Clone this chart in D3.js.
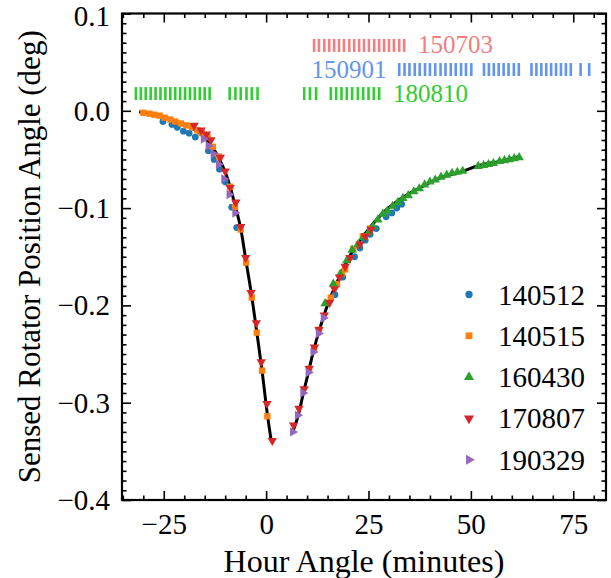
<!DOCTYPE html>
<html>
<head>
<meta charset="utf-8">
<script src="https://cdn.jsdelivr.net/npm/d3@7"></script>
<style>
  body { margin: 0; background: #fff; }
</style>
</head>
<body>
<svg id="chart"></svg>
<script>
// Data: [hour angle (min), sensed rotator PA (deg)]
const s140512 = [
  [-25.2, -0.011], [-23.0, -0.014], [-21.7, -0.017], [-20.2, -0.021], [-18.8, -0.023],
  [-17.3, -0.027], [-14.1, -0.041], [-12.7, -0.050], [-11.4, -0.060], [-10.0, -0.073],
  [-8.4, -0.099], [-7.2, -0.120],
  [16.8, -0.189], [18.7, -0.171], [21.6, -0.150], [22.9, -0.141], [24.2, -0.133],
  [25.4, -0.127], [26.9, -0.121], [29.3, -0.109], [30.7, -0.105], [31.9, -0.100], [33.1, -0.096]
];
const s140515 = [
  [-30.0, -0.002], [-28.5, -0.003], [-27.3, -0.004], [-26.0, -0.005], [-24.8, -0.007],
  [-23.4, -0.009], [-22.2, -0.011], [-20.8, -0.013], [-19.5, -0.015], [-18.1, -0.017],
  [-16.8, -0.020], [-15.7, -0.023], [-14.3, -0.027], [-13.0, -0.037], [-11.5, -0.047],
  [-8.8, -0.078], [-7.6, -0.099], [-6.2, -0.122], [-4.9, -0.156], [-3.5, -0.192],
  [-2.3, -0.228], [-1.0, -0.267], [0.3, -0.314],
  [10.5, -0.265], [11.7, -0.244], [12.9, -0.225], [15.8, -0.192], [17.3, -0.178],
  [18.5, -0.167], [19.3, -0.163], [21.3, -0.142], [23.6, -0.129], [25.4, -0.121]
];
const s160430 = [
  [14.4, -0.198], [16.4, -0.178], [18.1, -0.168], [19.7, -0.154], [21.0, -0.143],
  [22.5, -0.137], [23.7, -0.130], [25.0, -0.125], [26.1, -0.119], [27.3, -0.112],
  [28.5, -0.106], [29.6, -0.103], [30.9, -0.098], [32.2, -0.094], [33.4, -0.090],
  [34.7, -0.087], [36.1, -0.083], [37.4, -0.080], [38.7, -0.076], [40.0, -0.073],
  [41.3, -0.071], [42.7, -0.068], [44.1, -0.066], [45.4, -0.064], [46.7, -0.063],
  [48.0, -0.062], [51.8, -0.057], [53.1, -0.056], [54.3, -0.055], [55.5, -0.054],
  [57.0, -0.052], [58.2, -0.051], [59.4, -0.050], [60.6, -0.049], [61.8, -0.048]
];
const s170807 = [
  [-17.6, -0.015], [-15.9, -0.020], [-14.6, -0.024], [-13.5, -0.030], [-11.2, -0.048],
  [-10.0, -0.062], [-8.8, -0.079], [-7.4, -0.094], [-6.2, -0.119], [-5.0, -0.151],
  [-3.7, -0.187], [-2.4, -0.218], [-1.2, -0.258], [0.2, -0.301], [1.5, -0.339],
  [6.7, -0.323], [8.0, -0.306], [9.3, -0.286], [10.5, -0.265], [11.8, -0.243],
  [12.9, -0.225], [14.2, -0.210], [15.5, -0.197], [16.7, -0.183], [17.9, -0.171],
  [19.3, -0.160], [20.5, -0.151], [22.9, -0.137], [24.2, -0.129], [25.6, -0.122]
];
const s190329 = [
  [-15.3, -0.029], [-14.1, -0.036], [-12.9, -0.044], [-11.6, -0.055], [-10.3, -0.070],
  [-9.0, -0.086], [-7.6, -0.105],
  [6.5, -0.330], [7.7, -0.313], [9.0, -0.290], [10.3, -0.269], [11.5, -0.248],
  [12.8, -0.229], [14.0, -0.213]
];

// model curve (two branches)
const modelEast = [
  [-31.0, -0.001], [-28.0, -0.003], [-25.0, -0.006], [-22.0, -0.011], [-19.0, -0.016],
  [-16.5, -0.022], [-14.5, -0.030], [-13.0, -0.038], [-11.5, -0.049], [-10.0, -0.063],
  [-8.8, -0.078], [-7.6, -0.097], [-6.2, -0.121], [-4.9, -0.155], [-3.5, -0.191],
  [-2.3, -0.227], [-1.0, -0.267], [0.3, -0.312], [1.2, -0.338]
];
const modelWest = [
  [6.5, -0.330], [7.9, -0.312], [9.1, -0.290], [10.3, -0.269], [11.5, -0.248],
  [12.8, -0.228], [14.0, -0.212], [15.2, -0.197], [16.7, -0.182], [18.1, -0.169],
  [19.7, -0.155], [21.3, -0.143], [24.6, -0.124], [27.8, -0.108], [32.7, -0.091],
  [37.6, -0.079], [42.5, -0.069], [48.2, -0.062], [51.4, -0.057], [57.1, -0.052],
  [62.0, -0.047]
];

// observation times shown as rugs
const rug150703 = [11.7, 12.9, 14.2, 15.4, 16.6, 17.8, 19.0, 20.3, 21.5, 22.7,
  23.9, 25.1, 26.4, 27.6, 28.8, 30.0, 31.2, 32.5, 33.7];
const rug150901 = [32.5, 33.8, 35.0, 36.3, 37.5, 38.8, 40.0, 41.3, 42.6, 43.8,
  45.1, 46.3, 47.6, 48.8, 50.1,
  53.2, 54.4, 55.6, 56.8, 58.0, 59.2, 60.5, 61.7,
  64.8, 66.0, 67.2, 68.4, 69.6, 70.8, 72.0, 73.2, 74.4,
  76.8, 78.9];
const rug180810 = [-31.8, -30.6, -29.4, -28.2, -27.0, -25.8, -24.6, -23.4, -22.2,
  -21.0, -19.8, -18.6, -17.4, -16.2, -15.0, -13.8,
  -8.9, -7.5, -6.2, -4.8, -3.5, -2.1,
  9.3, 10.7, 12.2,
  15.8, 17.1, 18.4, 19.7, 21.0, 22.4, 23.7, 25.0, 26.3, 27.6];

const xTicks = [-25, 0, 25, 50, 75];
const yTicks = [0.1, 0.0, -0.1, -0.2, -0.3, -0.4];

// Chart configuration
const W = 611, H = 578;
const margin = { top: 13.5, right: 5, bottom: 78, left: 122 };
const width = W - margin.left - margin.right;
const height = H - margin.top - margin.bottom;
const FONT = "Times New Roman, Times, Liberation Serif, Tinos, DejaVu Serif, Noto Serif, serif";

const svg = d3.select("#chart").attr("width", W).attr("height", H)
  .style("font-family", FONT);
const g = svg.append("g").attr("transform", `translate(${margin.left},${margin.top})`);

const x = d3.scaleLinear().domain([-35.2, 83]).range([0, width]);
const y = d3.scaleLinear().domain([-0.4, 0.1]).range([height, 0]);

const fmtY = (d) => d3.format(".1f")(d).replace("-", "\u2212");
const fmtX = (d) => String(d).replace("-", "\u2212");

const xMinor = d3.range(-35, 84, 5).filter((v) => v % 25 !== 0);
const yMinor = d3.range(-40, 11).map((v) => v / 100).filter((v) => Math.round(v * 100) % 10 !== 0);

function styleAxis(sel) {
  sel.attr("font-family", null);
  sel.select(".domain").remove();
  sel.selectAll("line").attr("stroke", "#000").attr("stroke-width", 1.6);
  sel.selectAll("text").attr("fill", "#000").style("font-size", "29px");
}

// major ticks with labels
g.append("g").attr("transform", `translate(0,${height})`)
  .call(d3.axisBottom(x).tickValues(xTicks).tickSize(-9).tickPadding(16).tickFormat(fmtX))
  .call(styleAxis)
  .selectAll("text").attr("dy", "0.71em").attr("y", 13);
g.append("g")
  .call(d3.axisLeft(y).tickValues(yTicks).tickSize(-9).tickPadding(12).tickFormat(fmtY))
  .call(styleAxis)
  .selectAll("text").attr("dy", (d) => (d === 0.1 ? "0.4em" : "0.33em"));
// mirrored ticks
g.append("g").call(d3.axisTop(x).tickValues(xTicks).tickSize(-9).tickFormat("")).call(styleAxis);
g.append("g").attr("transform", `translate(${width},0)`)
  .call(d3.axisRight(y).tickValues(yTicks).tickSize(-9).tickFormat("")).call(styleAxis);
// minor ticks
g.append("g").attr("transform", `translate(0,${height})`)
  .call(d3.axisBottom(x).tickValues(xMinor).tickSize(-4.5).tickFormat("")).call(styleAxis);
g.append("g").call(d3.axisTop(x).tickValues(xMinor).tickSize(-4.5).tickFormat("")).call(styleAxis);
g.append("g").call(d3.axisLeft(y).tickValues(yMinor).tickSize(-4.5).tickFormat("")).call(styleAxis);
g.append("g").attr("transform", `translate(${width},0)`)
  .call(d3.axisRight(y).tickValues(yMinor).tickSize(-4.5).tickFormat("")).call(styleAxis);

// frame
g.append("rect")
  .attr("width", width).attr("height", height)
  .attr("fill", "none").attr("stroke", "#000").attr("stroke-width", 2.2);

// axis labels
g.append("text")
  .attr("x", width / 2).attr("y", height + 72)
  .attr("text-anchor", "middle").style("font-size", "32px")
  .text("Hour Angle (minutes)");
g.append("text")
  .attr("transform", "rotate(-90)")
  .attr("x", -height / 2).attr("y", -82)
  .attr("text-anchor", "middle").style("font-size", "31px")
  .text("Sensed Rotator Position Angle (deg)");

// rugs
const rugs = [
  { times: rug150703, level: 0.0672, color: "#f08080", label: "150703", side: "right", at: 37.1 },
  { times: rug150901, level: 0.0424, color: "#6495ed", label: "150901", side: "left", at: 29.4 },
  { times: rug180810, level: 0.0177, color: "#32cd32", label: "180810", side: "right", at: 31.0 },
];
rugs.forEach((r) => {
  g.append("g").selectAll("rect").data(r.times).join("rect")
    .attr("x", (d) => x(d) - 1.3)
    .attr("y", y(r.level) - 6.5)
    .attr("width", 2.6).attr("height", 13)
    .attr("fill", r.color);
  g.append("text")
    .attr("x", x(r.at)).attr("y", y(r.level) + 8)
    .attr("text-anchor", r.side === "right" ? "start" : "end")
    .attr("fill", r.color).style("font-size", "25px")
    .text(r.label);
});

// model line
const line = d3.line().x((d) => x(d[0])).y((d) => y(d[1])).curve(d3.curveMonotoneX);
[modelEast, modelWest].forEach((seg) => {
  g.append("path").datum(seg)
    .attr("d", line)
    .attr("fill", "none").attr("stroke", "#000").attr("stroke-width", 3);
});

// series markers
const series = [
  { name: "140512", data: s140512, color: "#1f77b4", type: d3.symbolCircle, size: 36, rot: 0 },
  { name: "140515", data: s140515, color: "#ff7f0e", type: d3.symbolSquare, size: 40, rot: 0 },
  { name: "160430", data: s160430, color: "#2ca02c", type: d3.symbolTriangle, size: 38, rot: 0 },
  { name: "170807", data: s170807, color: "#d62728", type: d3.symbolTriangle, size: 38, rot: 180 },
  { name: "190329", data: s190329, color: "#9467bd", type: d3.symbolTriangle, size: 38, rot: 90 },
];
series.forEach((s) => {
  const sym = d3.symbol().type(s.type).size(s.size);
  g.append("g").selectAll("path").data(s.data).join("path")
    .attr("d", sym)
    .attr("transform", (d) => `translate(${x(d[0])},${y(d[1])}) rotate(${s.rot})`)
    .attr("fill", s.color);
});

// legend
const legend = g.append("g").attr("transform", `translate(${347},${281})`);
series.forEach((s, i) => {
  const row = legend.append("g").attr("transform", `translate(0,${i * 41.3})`);
  row.append("path")
    .attr("d", d3.symbol().type(s.type).size(s.size + 6))
    .attr("transform", `rotate(${s.rot})`)
    .attr("fill", s.color);
  row.append("text")
    .attr("x", 29).attr("y", 10)
    .style("font-size", "29px")
    .text(s.name);
});
</script>
</body>
</html>
